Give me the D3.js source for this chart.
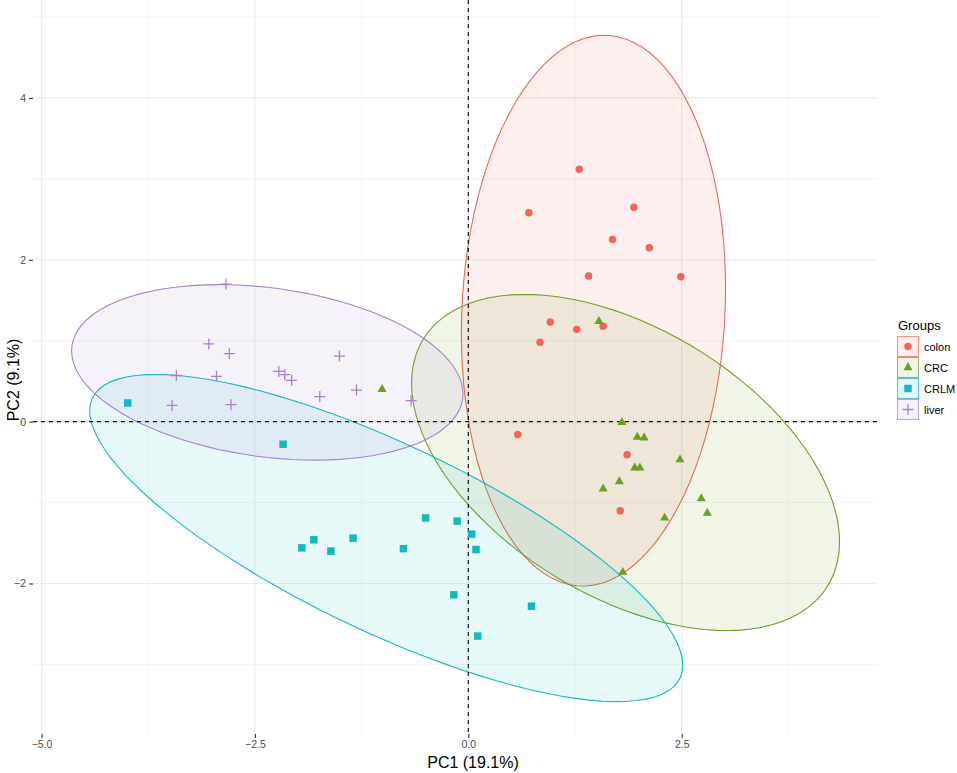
<!DOCTYPE html>
<html>
<head>
<meta charset="utf-8">
<script src="https://cdn.jsdelivr.net/npm/d3@7"></script>
<style>
  body { margin: 0; background: #fff; }
  text { font-family: "Liberation Sans", Arial, sans-serif; }
</style>
</head>
<body>
<svg id="drawing_region"></svg>
<script>
// groups and their PCA scores
const groups = ['colon', 'CRC', 'CRLM', 'liver'];
const colors = ['#F0665A', '#6E9E22', '#14B8C0', '#A880CC'];

const colon_pc1 = [1.30, 0.71, 1.94, 1.69, 2.12, 1.41, 2.49, 0.96, 1.27, 1.58, 0.84, 0.58, 1.86, 1.78];
const colon_pc2 = [3.12, 2.58, 2.65, 2.25, 2.15, 1.80, 1.79, 1.23, 1.14, 1.18, 0.98, -0.16, -0.41, -1.10];

const crc_pc1 = [-1.01, 1.53, 1.80, 1.98, 2.06, 2.48, 1.95, 2.01, 1.77, 1.58, 2.73, 2.80, 2.30, 1.81];
const crc_pc2 = [0.40, 1.24, -0.01, -0.19, -0.20, -0.47, -0.57, -0.57, -0.74, -0.83, -0.95, -1.13, -1.19, -1.86];

const crlm_pc1 = [-3.99, -2.17, -0.50, -0.13, 0.04, 0.09, -1.95, -1.81, -1.61, -1.35, -0.76, -0.17, 0.74, 0.11];
const crlm_pc2 = [0.23, -0.28, -1.19, -1.23, -1.39, -1.58, -1.56, -1.46, -1.60, -1.44, -1.57, -2.14, -2.28, -2.65];

const liver_pc1 = [-2.84, -3.04, -2.80, -3.42, -2.95, -2.22, -2.15, -2.07, -1.51, -1.74, -1.31, -0.67, -3.47, -2.78];
const liver_pc2 = [1.70, 0.96, 0.84, 0.57, 0.56, 0.62, 0.58, 0.51, 0.81, 0.31, 0.39, 0.26, 0.20, 0.21];

const x_ticks = [-5.0, -2.5, 0.0, 2.5];
const y_ticks = [-2, 0, 2, 4];

const pc1 = [colon_pc1, crc_pc1, crlm_pc1, liver_pc1];
const pc2 = [colon_pc2, crc_pc2, crlm_pc2, liver_pc2];

var config = {
    parent: '#drawing_region',
    width: 957,
    height: 773,
    panel: {left: 33, right: 878, top: 0, bottom: 734}
};

// 95% normal data ellipse, like stat_ellipse(type = "norm")
function dataEllipse(xs, ys, level) {
    const n = xs.length;
    const mx = d3.mean(xs), my = d3.mean(ys);
    let sxx = 0, syy = 0, sxy = 0;
    for (let i = 0; i < n; i++) {
        sxx += (xs[i] - mx) ** 2;
        syy += (ys[i] - my) ** 2;
        sxy += (xs[i] - mx) * (ys[i] - my);
    }
    sxx /= n - 1; syy /= n - 1; sxy /= n - 1;
    // upper cholesky factor
    const a = Math.sqrt(sxx), b = sxy / a, c = Math.sqrt(syy - b * b);
    const d = n - 1;
    const fq = (d / 2) * (Math.pow(1 - level, -2 / d) - 1);
    const r = Math.sqrt(2 * fq);
    const pts = [];
    for (let k = 0; k <= 100; k++) {
        const t = 2 * Math.PI * k / 100;
        const u = Math.cos(t), v = Math.sin(t);
        pts.push([mx + r * u * a, my + r * (u * b + v * c)]);
    }
    return pts;
}

const svg = d3.select(config.parent)
    .attr('width', config.width)
    .attr('height', config.height);

const p = config.panel;

const xscale = d3.scaleLinear().domain([-5.10, 4.80]).range([p.left, p.right]);
const yscale = d3.scaleLinear().domain([-3.86, 5.21]).range([p.bottom, p.top]);

// grid
const grid = svg.append('g');
const xminor = [-3.75, -1.25, 1.25, 3.75];
const yminor = [-3, -1, 1, 3, 5];
grid.selectAll('.xmin').data(xminor).enter().append('line')
    .attr('x1', d => xscale(d)).attr('x2', d => xscale(d))
    .attr('y1', p.top).attr('y2', p.bottom)
    .attr('stroke', '#EBEBEB').attr('stroke-width', 0.6);
grid.selectAll('.ymin').data(yminor).enter().append('line')
    .attr('y1', d => yscale(d)).attr('y2', d => yscale(d))
    .attr('x1', p.left).attr('x2', p.right)
    .attr('stroke', '#EBEBEB').attr('stroke-width', 0.6);
grid.selectAll('.xmaj').data(x_ticks).enter().append('line')
    .attr('x1', d => xscale(d)).attr('x2', d => xscale(d))
    .attr('y1', p.top).attr('y2', p.bottom)
    .attr('stroke', '#EBEBEB').attr('stroke-width', 1.1);
grid.selectAll('.ymaj').data(y_ticks).enter().append('line')
    .attr('y1', d => yscale(d)).attr('y2', d => yscale(d))
    .attr('x1', p.left).attr('x2', p.right)
    .attr('stroke', '#EBEBEB').attr('stroke-width', 1.1);

// ellipses
const line = d3.line().x(d => xscale(d[0])).y(d => yscale(d[1]));
groups.forEach((g, i) => {
    svg.append('path')
        .attr('d', line(dataEllipse(pc1[i], pc2[i], 0.95)) + 'Z')
        .attr('fill', colors[i])
        .attr('fill-opacity', 0.1)
        .attr('stroke', colors[i])
        .attr('stroke-width', 1.1);
});

// reference lines
svg.append('line')
    .attr('x1', p.left).attr('x2', p.right)
    .attr('y1', yscale(0)).attr('y2', yscale(0))
    .attr('stroke', '#000').attr('stroke-width', 1.1).attr('stroke-dasharray', '4,4');
svg.append('line')
    .attr('x1', xscale(0)).attr('x2', xscale(0))
    .attr('y1', p.top).attr('y2', p.bottom)
    .attr('stroke', '#000').attr('stroke-width', 1.1).attr('stroke-dasharray', '4,4');

// point glyphs per group
function glyph(sel, i) {
    if (i === 0) {
        sel.append('path').attr('d', d3.symbol(d3.symbolCircle, 44)()).attr('fill', colors[i]);
    } else if (i === 1) {
        sel.append('path').attr('d', d3.symbol(d3.symbolTriangle, 36)()).attr('fill', colors[i]);
    } else if (i === 2) {
        sel.append('path').attr('d', d3.symbol(d3.symbolSquare, 56)()).attr('fill', colors[i]);
    } else {
        sel.append('path').attr('d', 'M-5.5,0H5.5M0,-5.5V5.5')
            .attr('stroke', colors[i]).attr('stroke-width', 1.3).attr('fill', 'none');
    }
}

groups.forEach((g, i) => {
    const pts = pc1[i].map((x, j) => ({x: x, y: pc2[i][j]}));
    svg.append('g').selectAll('g')
        .data(pts).enter().append('g')
        .attr('transform', d => `translate(${xscale(d.x)},${yscale(d.y)})`)
        .each(function() { glyph(d3.select(this), i); });
});

// axes
const xaxis = d3.axisBottom(xscale).tickValues(x_ticks).tickFormat(d3.format('.1f')).tickSize(4).tickPadding(3);
const xg = svg.append('g').attr('transform', `translate(0,${p.bottom})`).call(xaxis);
const yaxis = d3.axisLeft(yscale).tickValues(y_ticks).tickFormat(d3.format('d')).tickSize(4).tickPadding(3);
const yg = svg.append('g').attr('transform', `translate(${p.left},0)`).call(yaxis);
[xg, yg].forEach(g => {
    g.select('.domain').remove();
    g.selectAll('.tick line').attr('stroke', '#333').attr('stroke-width', 1.1);
    g.selectAll('.tick text').attr('fill', '#4D4D4D').attr('font-size', 10.5)
        .attr('font-family', '"Liberation Sans", Arial, sans-serif');
});

svg.append('text')
    .attr('x', 473).attr('y', 768)
    .attr('text-anchor', 'middle')
    .attr('font-size', 16)
    .text('PC1 (19.1%)');
svg.append('text')
    .attr('transform', 'translate(19,380) rotate(-90)')
    .attr('text-anchor', 'middle')
    .attr('font-size', 16)
    .text('PC2 (9.1%)');

// legend
const legend = svg.append('g').attr('transform', 'translate(897,0)');
legend.append('text').attr('x', 1).attr('y', 330).attr('font-size', 13).text('Groups');
groups.forEach((g, i) => {
    const key = legend.append('g').attr('transform', `translate(0,${336 + i * 21})`);
    key.append('rect')
        .attr('x', 0.5).attr('y', 0.5).attr('width', 21).attr('height', 20)
        .attr('fill', colors[i]).attr('fill-opacity', 0.1)
        .attr('stroke', colors[i]).attr('stroke-opacity', 0.7).attr('stroke-width', 1.1);
    const c = key.append('g').attr('transform', 'translate(11,10.5)');
    glyph(c, i);
    key.append('text').attr('x', 27).attr('y', 14.5).attr('font-size', 11).text(g);
});
</script>
</body>
</html>
